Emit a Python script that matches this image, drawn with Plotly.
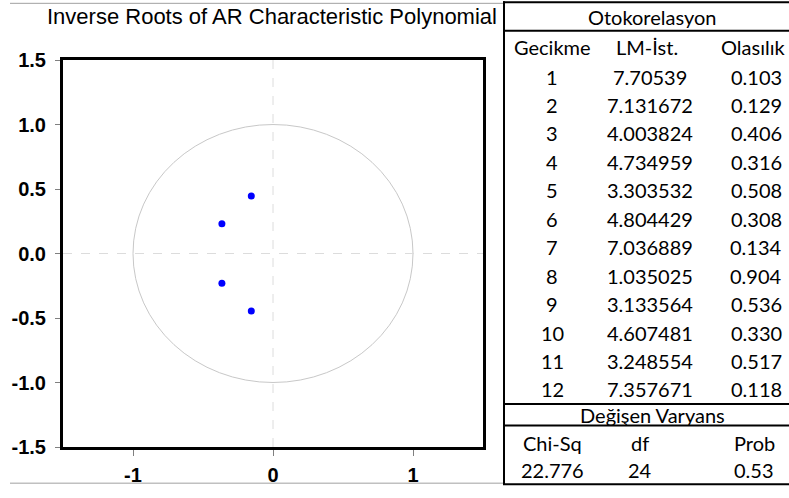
import plotly.graph_objects as go

# inverse roots (real, imaginary)
root_re = [-0.155, -0.365, -0.365, -0.155]
root_im = [0.445, 0.23, -0.23, -0.445]

# residual tests table
lags = ["1", "2", "3", "4", "5", "6", "7", "8", "9", "10", "11", "12"]
lm_stats = ["7.70539", "7.131672", "4.003824", "4.734959", "3.303532", "4.804429",
            "7.036889", "1.035025", "3.133564", "4.607481", "3.248554", "7.357671"]
probs = ["0.103", "0.129", "0.406", "0.316", "0.508", "0.308",
         "0.134", "0.904", "0.536", "0.330", "0.517", "0.118"]
auto_header = ["Gecikme", "LM-İst.", "Olasılık"]
het_header = ["Chi-Sq", "df", "Prob"]
het_values = ["22.776", "24", "0.53"]

yticks = [-1.5, -1.0, -0.5, 0.0, 0.5, 1.0, 1.5]
ylabels = ["-1.5", "-1.0", "-0.5", "0.0", "0.5", "1.0", "1.5"]
xticks = [-1, 0, 1]
xlabels = ["-1", "0", "1"]

W, H = 789, 498
L, R, T, B = 63, 483, 60, 456  # plot area in pixels


def px(x):
    return (x - L) / (R - L)


def py(y):
    return (B - y) / (B - T)


fig = go.Figure()
fig.add_trace(go.Scatter(x=root_re, y=root_im, mode="markers",
                         marker=dict(color="#0000ff", size=7), showlegend=False))


def hline(x0, x1, y, color="black", width=2):
    return dict(type="line", xref="paper", yref="paper", x0=px(x0), x1=px(x1), y0=py(y), y1=py(y),
                line=dict(color=color, width=width))


shapes = [
    dict(type="circle", xref="x", yref="y", x0=-1, y0=-1, x1=1, y1=1,
         line=dict(color="#c8c8c8", width=1), layer="below"),
    dict(type="line", xref="x", yref="y", x0=0, x1=0, y0=-1.5, y1=1.5,
         line=dict(color="#dcdcdc", width=1, dash="dash"), layer="below"),
    dict(type="line", xref="x", yref="y", x0=-1.5, x1=1.5, y0=0, y1=0,
         line=dict(color="#dcdcdc", width=1, dash="dash"), layer="below"),
    hline(10, 503, 2, "#a0a0a0", 1),
    hline(10, 503, 493, "#a0a0a0", 1),
    dict(type="line", xref="paper", yref="paper", x0=px(504), x1=px(504), y0=py(0), y1=py(494),
         line=dict(color="black", width=2)),
    hline(503, 789, 1),
    hline(503, 789, 30),
    hline(503, 789, 412),
    hline(503, 789, 434),
    hline(503, 789, 494),
]

tfont = dict(family="Lato, Open Sans, sans-serif", size=20, color="black")


def cell(text, x, y, font=tfont):
    return dict(text=text, xref="paper", yref="paper", x=px(x), y=py(y),
                showarrow=False, xanchor="center", yanchor="middle", font=font)


annotations = [
    cell("Inverse Roots of AR Characteristic Polynomial", 272, 16,
         dict(family="Liberation Sans, Arial", size=22, color="black")),
    cell("Otokorelasyon", 652, 16),
    cell("Değişen Varyans", 652, 423),
]

col_x = [552, 650, 756]
head_x = [552, 647, 753]
for j, h in enumerate(auto_header):
    annotations.append(cell(h, head_x[j], 47))
for i in range(len(lags)):
    yy = 77 + 29.1 * i
    for j, v in enumerate([lags[i], lm_stats[i], probs[i]]):
        annotations.append(cell(v, col_x[j], yy))

het_x = [552, 640, 754]
for j in range(3):
    annotations.append(cell(het_header[j], het_x[j], 452))
    annotations.append(cell(het_values[j], het_x[j], 480))

axfont = dict(family="Liberation Sans, Arial", size=20, color="black", weight="bold")
fig.update_layout(
    width=W, height=H,
    margin=dict(l=L, r=W - R, t=T, b=H - B),
    plot_bgcolor="white", paper_bgcolor="white",
    shapes=shapes, annotations=annotations,
    xaxis=dict(range=[-1.5, 1.5], tickvals=xticks, ticktext=xlabels, showgrid=False, zeroline=False,
               showline=True, mirror=True, linecolor="black", linewidth=3,
               ticks="outside", ticklen=6, tickcolor="#808080", tickwidth=1,
               ticklabelstandoff=2, tickfont=axfont),
    yaxis=dict(range=[-1.5, 1.5], tickvals=yticks, ticktext=ylabels, showgrid=False, zeroline=False,
               showline=True, mirror=True, linecolor="black", linewidth=3,
               ticks="outside", ticklen=5, tickcolor="#808080", tickwidth=1,
               ticklabelstandoff=5, tickfont=axfont),
)

# drop the default 8px page margin so the figure fills the window
page_js = ("document.body.style.margin='0px';"
           "document.body.style.overflow='hidden';"
           "document.documentElement.style.overflow='hidden';")
fig.write_html("out.html", config={"displayModeBar": False}, post_script=page_js)
